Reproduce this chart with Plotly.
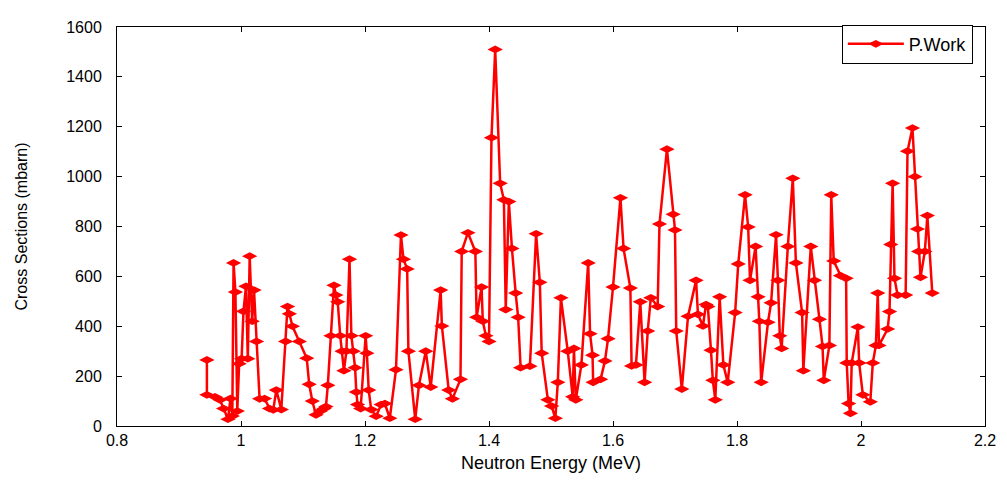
import plotly.graph_objects as go

energy_mev = [
    0.945, 0.945, 0.958, 0.966, 0.972, 0.979, 0.983, 0.986, 0.988, 0.991,
    0.994, 0.997, 1.001, 1.004, 1.008, 1.011, 1.014, 1.018, 1.021, 1.025,
    1.030, 1.038, 1.046, 1.052, 1.057, 1.065, 1.072, 1.075, 1.078, 1.083,
    1.094, 1.106, 1.110, 1.115, 1.121, 1.128, 1.134, 1.137, 1.140, 1.145,
    1.150, 1.153, 1.156, 1.160, 1.163, 1.166, 1.170, 1.175, 1.178, 1.181,
    1.184, 1.186, 1.188, 1.193, 1.201, 1.203, 1.206, 1.210, 1.218, 1.226,
    1.232, 1.240, 1.250, 1.258, 1.262, 1.268, 1.270, 1.281, 1.287, 1.298,
    1.306, 1.322, 1.324, 1.335, 1.341, 1.354, 1.356, 1.366, 1.378, 1.380,
    1.388, 1.390, 1.395, 1.400, 1.404, 1.410, 1.418, 1.424, 1.427, 1.432,
    1.437, 1.443, 1.447, 1.451, 1.466, 1.476, 1.482, 1.485, 1.495, 1.501,
    1.507, 1.511, 1.516, 1.527, 1.535, 1.537, 1.540, 1.549, 1.560, 1.563,
    1.567, 1.568, 1.580, 1.587, 1.592, 1.600, 1.612, 1.617, 1.628, 1.630,
    1.637, 1.644, 1.651, 1.656, 1.661, 1.672, 1.675, 1.687, 1.697, 1.700,
    1.702, 1.711, 1.721, 1.734, 1.737, 1.745, 1.750, 1.753, 1.758, 1.761,
    1.765, 1.772, 1.778, 1.785, 1.797, 1.802, 1.813, 1.818, 1.821, 1.830,
    1.834, 1.836, 1.839, 1.850, 1.855, 1.863, 1.866, 1.869, 1.872, 1.882,
    1.890, 1.895, 1.905, 1.907, 1.919, 1.925, 1.933, 1.938, 1.940, 1.949,
    1.952, 1.956, 1.967, 1.976, 1.977, 1.980, 1.983, 1.985, 1.995, 1.997,
    2.003, 2.015, 2.019, 2.024, 2.027, 2.029, 2.043, 2.046, 2.048, 2.051,
    2.054, 2.059, 2.072, 2.075, 2.083, 2.087, 2.091, 2.093, 2.096, 2.103,
    2.107, 2.115,
]

cross_section_mbarn = [
    265, 125, 117, 105, 70, 27, 110, 40, 654, 537,
    60, 250, 270, 460, 560, 270, 681, 420, 545, 339,
    109, 110, 70, 65, 144, 66, 339, 479, 450, 400,
    339, 272, 167, 100, 45, 60, 70, 78, 163, 362,
    564, 525, 498, 362, 300, 222, 300, 669, 362, 300,
    234, 136, 86, 70, 362, 292, 144, 66, 39, 86,
    90, 31, 226, 766, 669, 630, 300, 27, 163, 300,
    156, 545, 401, 144, 109, 187, 700, 775, 700, 436,
    557, 420, 362, 339, 1156, 1510, 973, 907, 467, 900,
    712, 533, 436, 234, 240, 771, 576, 292, 105, 80,
    31, 175, 514, 300, 117, 311, 105, 245, 654, 370,
    284, 175, 187, 261, 350, 557, 915, 712, 553, 241,
    245, 498, 175, 381, 514, 479, 810, 1110, 849, 786,
    381, 148, 440, 584, 448, 401, 487, 479, 304, 183,
    105, 518, 245, 175, 455, 650, 927, 798, 584, 720,
    518, 420, 175, 416, 494, 767, 584, 362, 311, 720,
    993, 654, 455, 222, 720, 584, 428, 319, 183, 323,
    927, 662, 603, 592, 253, 90, 51, 253, 397, 253,
    125, 97, 253, 323, 533, 323, 389, 459, 728, 973,
    592, 525, 525, 1102, 1195, 1000, 790, 700, 596, 700,
    844, 533,
]

x_ticks = [0.8, 1.0, 1.2, 1.4, 1.6, 1.8, 2.0, 2.2]
x_tick_labels = ["0.8", "1", "1.2", "1.4", "1.6", "1.8", "2", "2.2"]
y_ticks = [0, 200, 400, 600, 800, 1000, 1200, 1400, 1600]

font_family = "Liberation Sans, Arial, sans-serif"

fig = go.Figure()
fig.add_trace(go.Scatter(
    x=energy_mev, y=cross_section_mbarn,
    mode="lines+markers", name="P.Work",
    line=dict(color="#FF0000", width=2.5),
    marker=dict(symbol="diamond-wide", size=11, color="#FF0000"),
))

axis_common = dict(
    showline=True, linecolor="black", linewidth=1, mirror="allticks",
    ticks="inside", ticklen=5, tickcolor="black", showgrid=False,
    zeroline=False, tickfont=dict(family=font_family, size=16, color="black"),
)

# page body has an 8px default margin; size the figure so the plot area
# lands on the same pixels as the reference
fig.update_layout(
    width=999, height=473,
    margin=dict(l=109, r=19, t=11, b=51),
    paper_bgcolor="white", plot_bgcolor="white",
    font=dict(family=font_family, color="black"),
    xaxis=dict(range=[0.8, 2.2], tickvals=x_ticks, ticktext=x_tick_labels,
               title=dict(text="Neutron Energy (MeV)", font=dict(size=18), standoff=8),
               **axis_common),
    yaxis=dict(range=[0, 1600], tickvals=y_ticks,
               title=dict(text="Cross Sections (mbarn)", font=dict(size=16), standoff=34),
               ticklabelstandoff=11,
               **axis_common),
    legend=dict(x=0.986, y=1.006, xanchor="right", yanchor="top",
                bordercolor="black", borderwidth=1, bgcolor="white",
                font=dict(family=font_family, size=18, color="black"),
                itemwidth=56),
    showlegend=True,
)

fig.write_html("out.html")
